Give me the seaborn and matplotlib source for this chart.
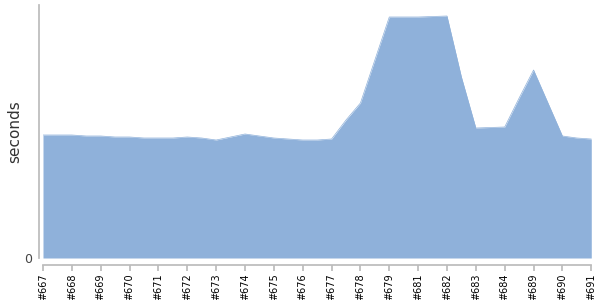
import matplotlib
matplotlib.use("Agg")
import matplotlib.pyplot as plt
import seaborn as sns
import numpy as np
import pandas as pd

builds = ["#667", "#668", "#669", "#670", "#671", "#672", "#673", "#674", "#675", "#676",
          "#677", "#678", "#679", "#681", "#682", "#683", "#684", "#689", "#690", "#691"]
# one sample per half step between labelled builds
seconds = [123, 123, 123, 122, 122, 121, 121, 120, 120, 120,
           121, 120, 118, 121, 124, 122, 120, 119, 118, 118,
           119, 138, 155, 198, 241, 241, 241, 241.5, 242, 181,
           130, 130.5, 131, 160, 188, 155, 122, 120, 119]

df = pd.DataFrame({"pos": np.arange(len(seconds)), "seconds": seconds})

sns.set_theme(style="white")
fig = plt.figure(figsize=(6, 3), dpi=100)
ax = fig.add_axes([43 / 600, 42 / 300, 549 / 600, 253 / 300])

color = "#8fb1da"
sns.lineplot(data=df, x="pos", y="seconds", ax=ax, color=color, linewidth=0.5)
ax.fill_between(df["pos"], 0, df["seconds"], color=color, linewidth=0)

ax.set_xlim(0, len(seconds) - 1 + 0.05)
ax.set_ylim(0, 253)

tick_pos = np.arange(0, len(seconds), 2)
ax.set_xticks(tick_pos, builds)
ax.set_yticks([0], ["0"])
ax.set_xlabel("")
ax.set_ylabel("seconds", fontsize=11, color="#333333", labelpad=1)

for s in ["top", "right"]:
    ax.spines[s].set_visible(False)
ax.spines["left"].set_color("#bbbbbb")
ax.spines["left"].set_position(("outward", 3))
ax.spines["bottom"].set_color("#bbbbbb")
ax.spines["bottom"].set_position(("outward", 5))
ax.spines["bottom"].set_bounds(0, len(seconds) - 1)
ax.tick_params(axis="x", length=4, color="#bbbbbb", pad=2, bottom=True,
               labelrotation=90, labelsize=7, labelcolor="#000000")
ax.tick_params(axis="y", length=0, pad=5, labelsize=9, labelcolor="#444444")

fig.savefig("out.png", dpi=100)
